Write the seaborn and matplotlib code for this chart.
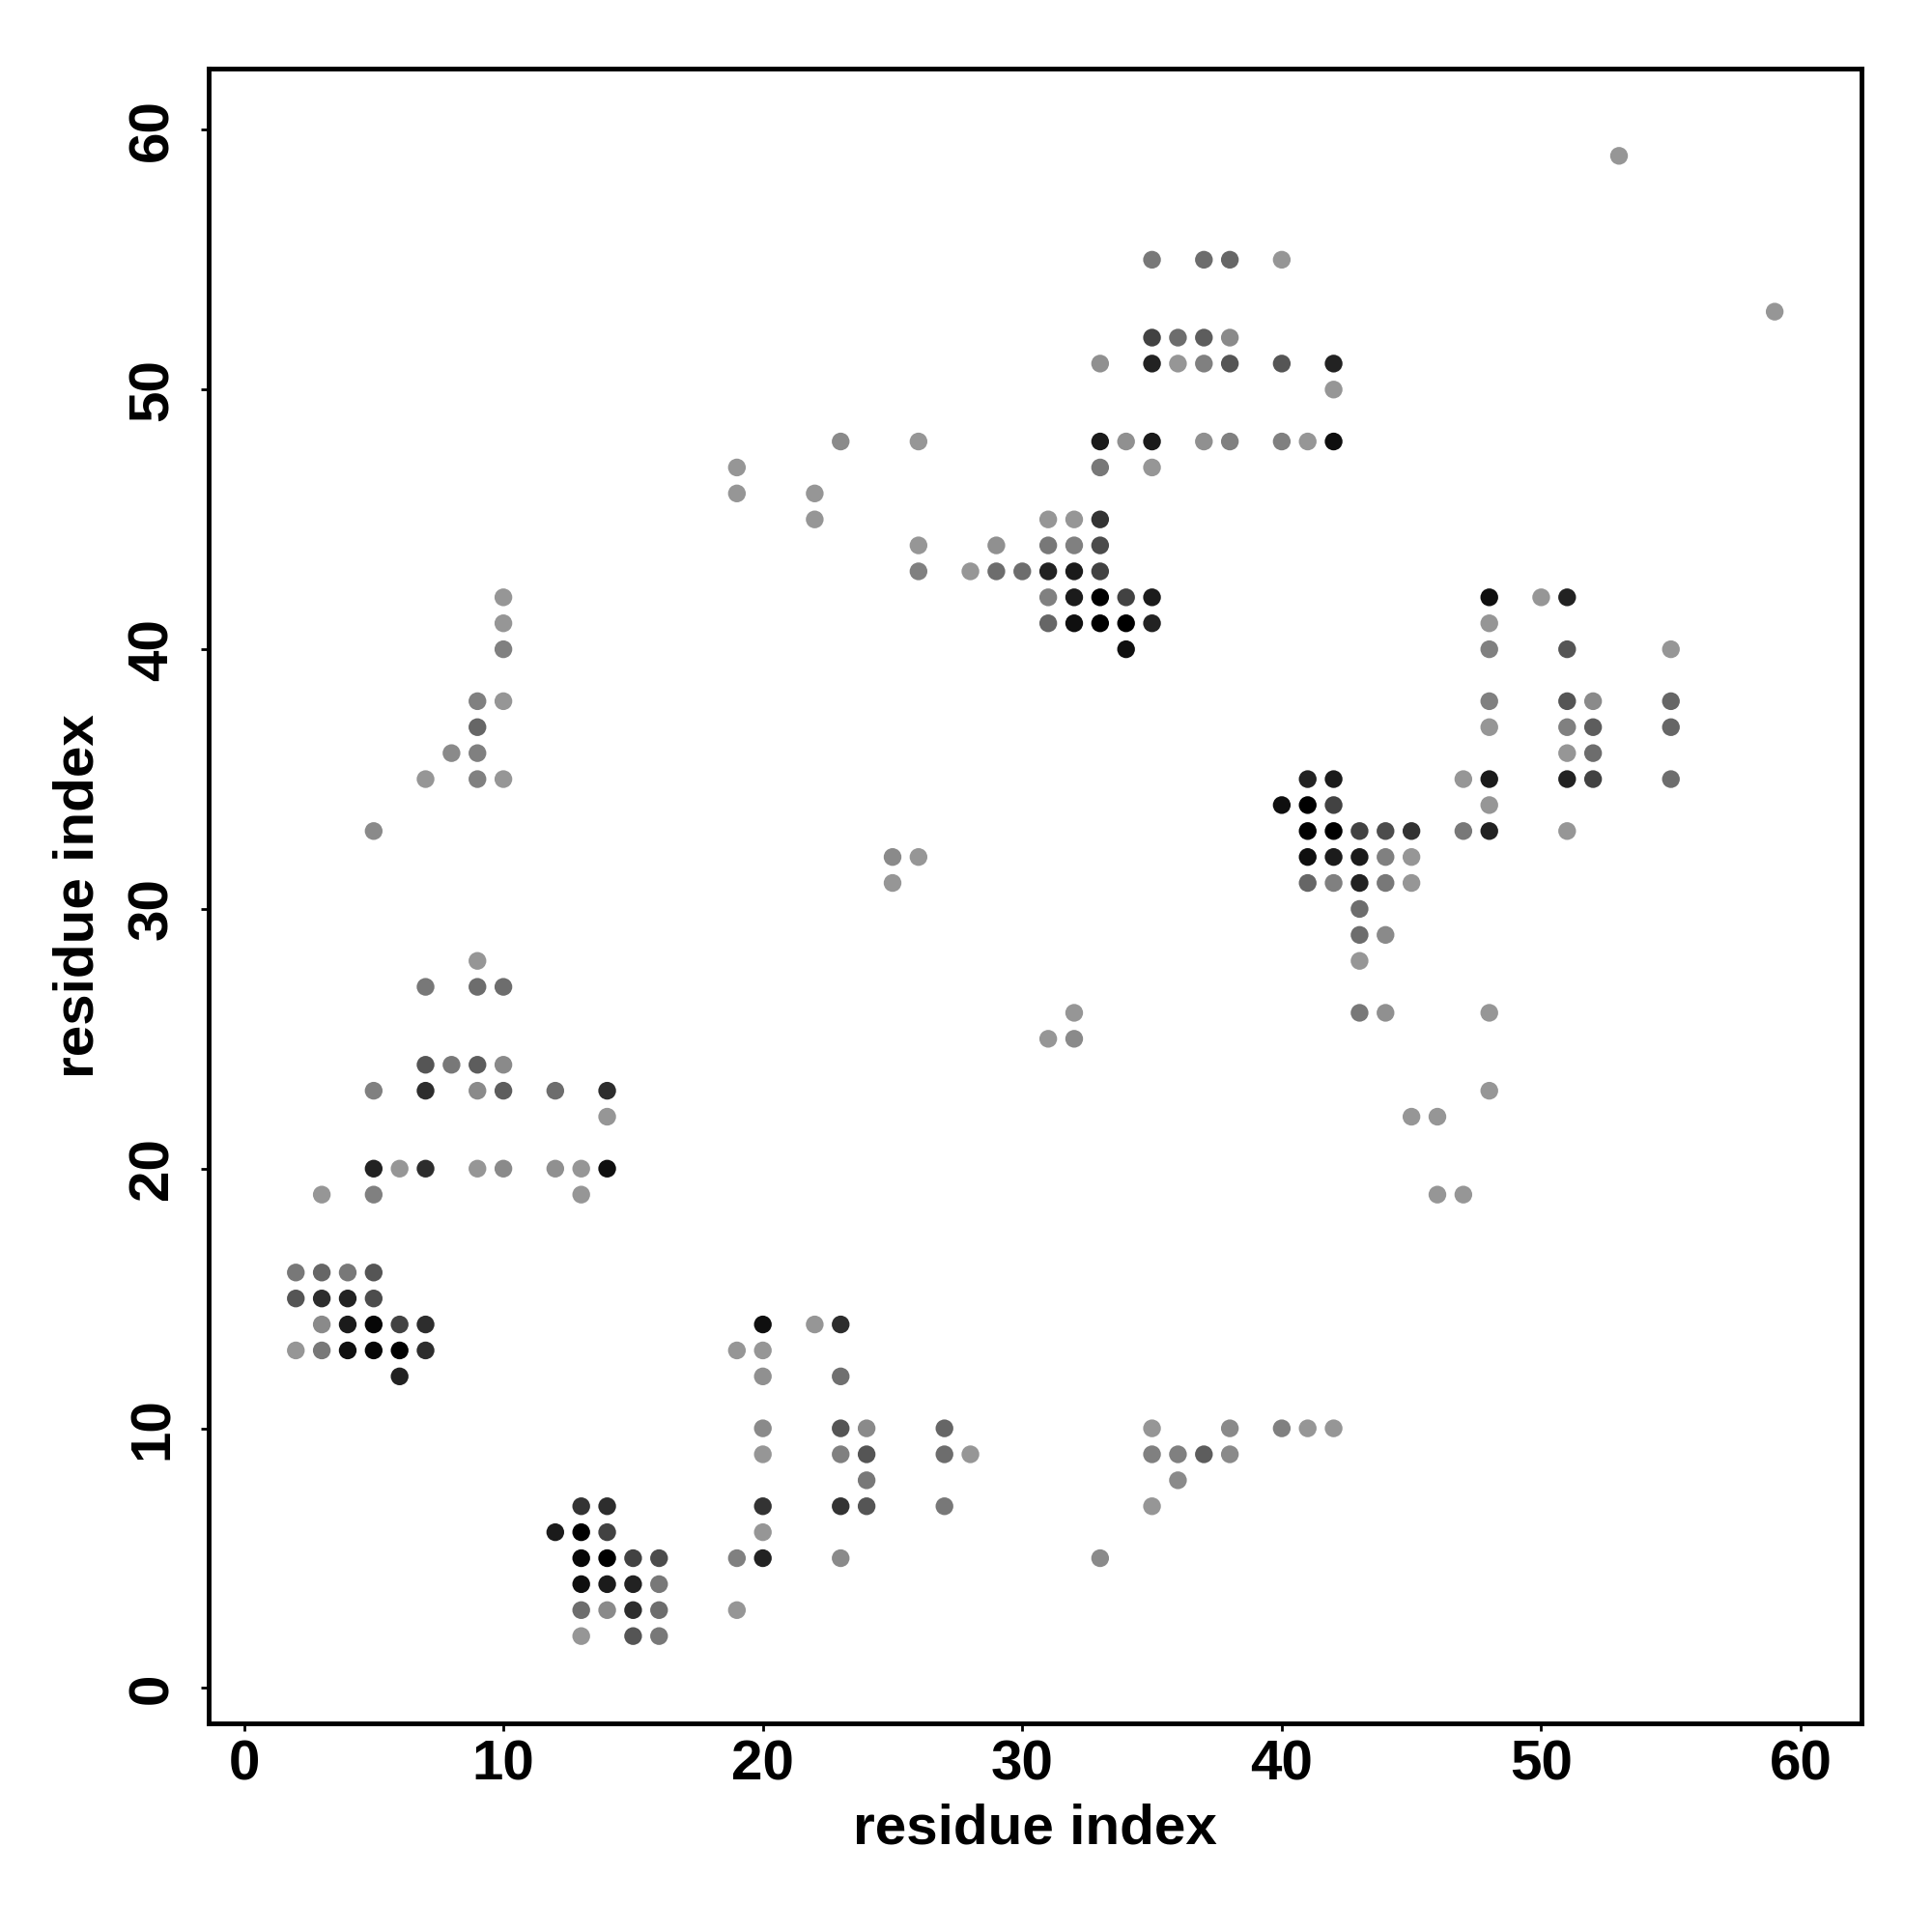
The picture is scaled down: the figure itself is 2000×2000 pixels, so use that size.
import matplotlib
matplotlib.use("Agg")
import matplotlib.pyplot as plt
import pandas as pd
import seaborn as sns
from matplotlib.colors import LinearSegmentedColormap

# contact map: residue i, residue j, contact strength (0 = weak/light, 1 = strong/black)
res_i = [
    2, 3, 4, 5, 2, 3, 4, 5, 3, 4, 5, 6, 7, 2, 3, 4, 5, 6, 7, 6,
    13, 14, 12, 13, 14, 13, 14, 15, 16, 13, 14, 15, 16, 13, 14, 15, 16, 13, 15, 16,
    20, 19, 20, 20, 20, 20, 20, 20, 19, 20, 19,
    22, 23, 23, 23, 24, 27, 23, 24, 27, 28, 24, 23, 24, 27, 23, 33,
    35, 38, 40, 41, 42, 35, 36, 37, 38, 36, 35,
    3, 5, 13, 5, 6, 7, 9, 10, 12, 13, 14, 14, 5, 7, 9, 10, 12, 14, 7, 8, 9, 10,
    7, 9, 10, 9,
    5, 7, 9, 10, 8, 9, 9, 9, 10, 10, 10, 10,
    25, 26, 25, 32, 31, 32,
    40, 41, 42, 41, 42, 41, 42, 43, 44, 45, 41, 42, 43, 44, 45, 41, 42, 43, 44, 45,
    43, 43, 44, 43, 43, 44, 48, 48, 45, 46, 46, 47,
    47, 48, 47, 48, 48, 48, 48, 51, 52, 55, 51, 52, 55, 51, 52, 51, 52, 55, 51,
    48, 51, 55, 48, 48, 50, 51,
    19, 19, 22, 22, 23, 26, 26, 26, 28, 29, 30, 31, 32, 33, 29, 31, 32, 33, 31, 32, 33,
    31, 32, 33, 34, 35, 31, 32, 33, 34, 35, 34,
    33, 35, 33, 34, 35, 37, 38, 40, 41, 42, 42,
    33, 35, 36, 37, 38, 40, 42, 35, 36, 37, 38, 35, 37, 38, 40,
    53, 59,
]
res_j = [
    16, 16, 16, 16, 15, 15, 15, 15, 14, 14, 14, 14, 14, 13, 13, 13, 13, 13, 13, 12,
    7, 7, 6, 6, 6, 5, 5, 5, 5, 4, 4, 4, 4, 3, 3, 3, 3, 2, 2, 2,
    14, 13, 13, 12, 10, 9, 7, 6, 5, 5, 3,
    14, 14, 12, 10, 10, 10, 9, 9, 9, 9, 8, 7, 7, 7, 5, 5,
    10, 10, 10, 10, 10, 9, 9, 9, 9, 8, 7,
    19, 19, 19, 20, 20, 20, 20, 20, 20, 20, 20, 22, 23, 23, 23, 23, 23, 23, 24, 24, 24, 24,
    27, 27, 27, 28,
    33, 35, 35, 35, 36, 36, 37, 38, 38, 40, 41, 42,
    32, 32, 31, 26, 25, 25,
    34, 35, 35, 34, 34, 33, 33, 33, 33, 33, 32, 32, 32, 32, 32, 31, 31, 31, 31, 31,
    30, 29, 29, 28, 26, 26, 26, 23, 22, 22, 19, 19,
    35, 35, 33, 33, 34, 37, 38, 38, 38, 38, 37, 37, 37, 36, 36, 35, 35, 35, 33,
    40, 40, 40, 41, 42, 42, 42,
    47, 46, 46, 45, 48, 48, 44, 43, 43, 43, 43, 43, 43, 43, 44, 44, 44, 44, 45, 45, 45,
    42, 42, 42, 42, 42, 41, 41, 41, 41, 41, 40,
    47, 47, 48, 48, 48, 48, 48, 48, 48, 48, 50,
    51, 51, 51, 51, 51, 51, 51, 52, 52, 52, 52, 55, 55, 55, 55,
    59, 53,
]
strength = [
    0.20, 0.32, 0.20, 0.43, 0.43, 0.70, 0.77, 0.49, 0.08, 0.82, 0.95, 0.56, 0.70, 0.00, 0.20, 0.90, 0.95, 1.00, 0.70, 0.77,
    0.66, 0.70, 0.82, 1.00, 0.56, 0.95, 1.00, 0.56, 0.49, 0.90, 0.82, 0.77, 0.20, 0.27, 0.08, 0.70, 0.27, 0.00, 0.43, 0.20,
    0.90, 0.00, 0.00, 0.04, 0.08, 0.00, 0.66, 0.00, 0.15, 0.77, 0.00,
    0.00, 0.70, 0.25, 0.43, 0.08, 0.32, 0.15, 0.43, 0.27, 0.00, 0.20, 0.66, 0.43, 0.20, 0.08, 0.08,
    0.00, 0.08, 0.15, 0.00, 0.00, 0.15, 0.15, 0.38, 0.08, 0.08, 0.00,
    0.00, 0.15, 0.00, 0.77, 0.00, 0.70, 0.00, 0.08, 0.04, 0.00, 0.90, 0.00, 0.15, 0.70, 0.08, 0.38, 0.27, 0.70, 0.43, 0.20, 0.38, 0.08,
    0.20, 0.27, 0.27, 0.00,
    0.08, 0.00, 0.15, 0.00, 0.08, 0.15, 0.32, 0.15, 0.00, 0.15, 0.00, 0.00,
    0.08, 0.00, 0.00, 0.00, 0.00, 0.08,
    0.90, 0.77, 0.82, 1.00, 0.56, 1.00, 1.00, 0.56, 0.49, 0.66, 0.90, 0.82, 0.82, 0.15, 0.00, 0.32, 0.15, 0.77, 0.20, 0.00,
    0.27, 0.27, 0.08, 0.00, 0.20, 0.04, 0.00, 0.00, 0.00, 0.00, 0.00, 0.00,
    0.00, 0.82, 0.20, 0.77, 0.00, 0.00, 0.15, 0.43, 0.08, 0.32, 0.15, 0.38, 0.32, 0.00, 0.27, 0.77, 0.56, 0.27, 0.00,
    0.15, 0.43, 0.00, 0.00, 0.90, 0.00, 0.77,
    0.00, 0.00, 0.00, 0.00, 0.08, 0.00, 0.00, 0.15, 0.00, 0.27, 0.27, 0.77, 0.82, 0.56, 0.04, 0.20, 0.15, 0.49, 0.00, 0.00, 0.66,
    0.15, 0.82, 1.00, 0.56, 0.82, 0.32, 0.90, 1.00, 1.00, 0.77, 0.90,
    0.20, 0.00, 0.82, 0.04, 0.82, 0.04, 0.15, 0.15, 0.00, 0.90, 0.00,
    0.04, 0.77, 0.00, 0.15, 0.43, 0.43, 0.77, 0.56, 0.27, 0.38, 0.08, 0.20, 0.27, 0.32, 0.00,
    0.00, 0.00,
]

ticks = [0, 10, 20, 30, 40, 50, 60]
axis_label = "residue index"

contacts = pd.DataFrame({"i": res_i, "j": res_j, "strength": strength})

sns.set_theme(style="white")
plt.rcParams["font.family"] = ["Liberation Sans", "DejaVu Sans"]
plt.rcParams["font.weight"] = "bold"
plt.rcParams["text.color"] = "black"
plt.rcParams["axes.labelcolor"] = "black"
plt.rcParams["xtick.color"] = "black"
plt.rcParams["ytick.color"] = "black"

grey_map = LinearSegmentedColormap.from_list("contact_grey", ["#969696", "#000000"])

fig = plt.figure(figsize=(20, 20), dpi=100)
ax = fig.add_axes([0.108, 0.108, 0.8557, 0.8565])
sns.scatterplot(
    data=contacts,
    x="i",
    y="j",
    hue="strength",
    palette=grey_map,
    hue_norm=(0, 1),
    s=175,
    linewidth=0,
    legend=False,
    ax=ax,
)

ax.set_xlim(-1.36, 62.36)
ax.set_ylim(-1.36, 62.36)
ax.set_xticks(ticks)
ax.set_yticks(ticks)
ax.set_xticklabels([str(t) for t in ticks])
ax.set_yticklabels([str(t) for t in ticks], rotation=90, va="center")
ax.tick_params(axis="both", direction="out", length=6, width=2, color="black",
               labelcolor="black", labelsize=42, left=True, bottom=True)
ax.tick_params(axis="x", pad=6)
ax.tick_params(axis="y", pad=16)
for spine in ax.spines.values():
    spine.set_linewidth(3.5)
    spine.set_color("black")

ax.set_xlabel(axis_label, fontsize=42, fontweight="bold", color="black")
ax.set_ylabel(axis_label, fontsize=42, fontweight="bold", color="black")
ax.xaxis.set_label_coords(0.5, -0.048)
ax.yaxis.set_label_coords(-0.063, 0.5)

fig.savefig("out.png", dpi=100, facecolor="white")
plt.close(fig)
